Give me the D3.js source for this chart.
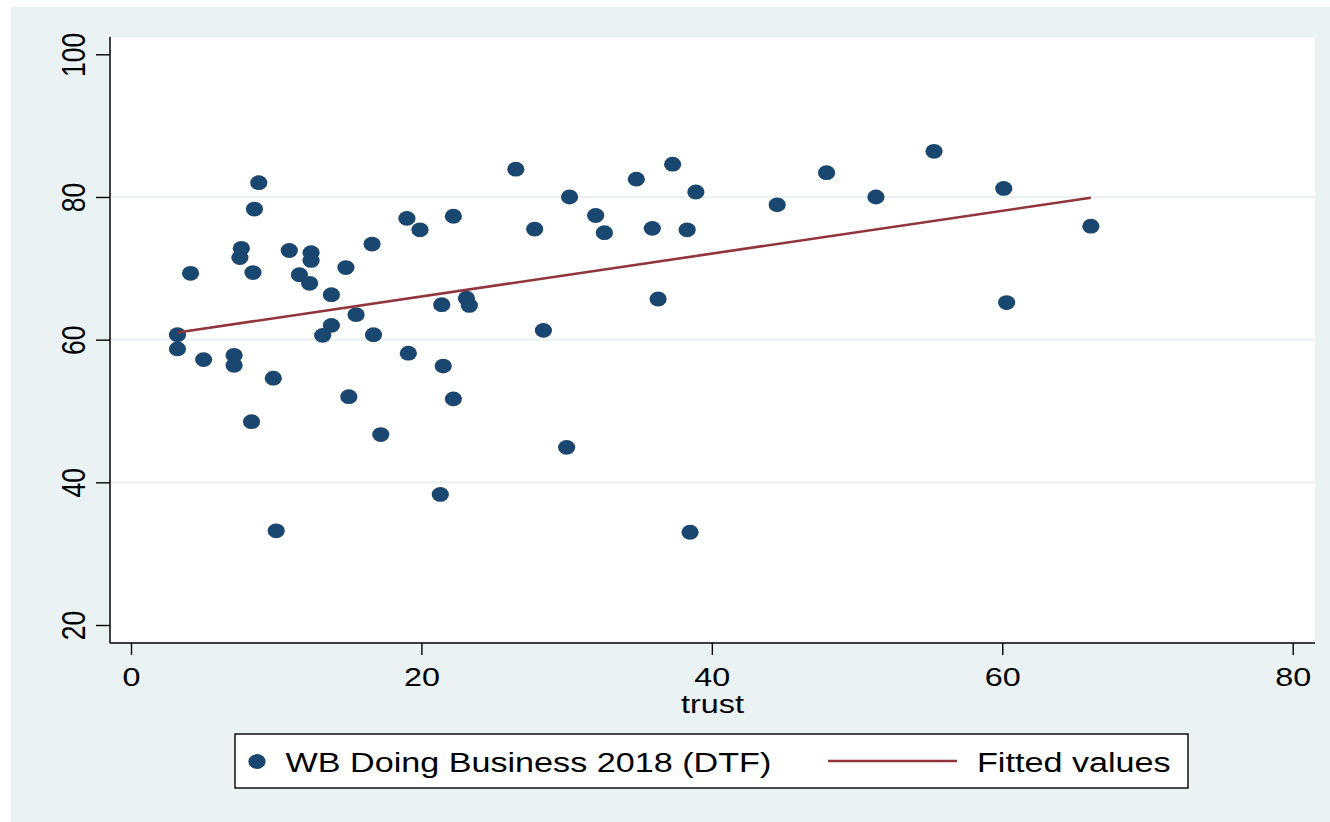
<!DOCTYPE html>
<html>
<head>
<meta charset="utf-8">
<script src="https://cdn.jsdelivr.net/npm/d3@7"></script>
<style>
  body { margin: 0; background: #fff; }
  svg { display: block; }
  text { font-family: "Liberation Sans", Arial, Helvetica, sans-serif; fill: #000; }
</style>
</head>
<body>
<script>
// trust (x) vs WB Doing Business 2018 DTF (y)
const trust = [
  8.8, 8.5, 7.6, 7.5, 10.9, 12.4, 12.4, 4.1, 8.4, 11.6,
  12.3, 14.8, 16.6, 13.8, 15.5, 13.8, 13.2, 16.7, 3.2, 3.2,
  5.0, 7.1, 7.1, 9.8, 15.0, 19.0, 19.9, 22.2, 21.4, 19.1,
  21.5, 22.2, 8.3, 17.2, 21.3, 10.0, 26.5, 30.2, 34.8, 37.3,
  38.9, 27.8, 32.0, 32.6, 35.9, 38.3, 23.1, 23.3, 36.3, 28.4,
  30.0, 38.5, 44.5, 47.9, 51.3, 55.3, 60.1, 66.1, 60.3
];
const dtf = [
  82.0, 78.3, 72.8, 71.5, 72.5, 72.2, 71.1, 69.3, 69.4, 69.1,
  67.9, 70.1, 73.4, 66.3, 63.5, 62.0, 60.6, 60.7, 60.7, 58.7,
  57.2, 57.8, 56.4, 54.6, 52.0, 77.0, 75.4, 77.3, 64.9, 58.1,
  56.3, 51.7, 48.5, 46.7, 38.3, 33.2, 83.9, 80.0, 82.5, 84.6,
  80.7, 75.5, 77.4, 75.0, 75.6, 75.4, 65.8, 64.8, 65.7, 61.3,
  44.9, 33.0, 78.9, 83.4, 80.0, 86.4, 81.2, 75.9, 65.2
];
// fitted values (linear fit), read at the ends of the line
const fitX = [3.2, 66.1];
const fitY = [61.0, 79.9];

const xTicks = [0, 20, 40, 60, 80];
const yTicks = [20, 40, 60, 80, 100];
const yGrid = [40, 60, 80];
const legendLabels = ["WB Doing Business 2018 (DTF)", "Fitted values"];

const W = 1330, H = 822;
const stretch = 1.22;
const bg = "#eaf2f3", navy = "#1a476f", maroon = "#90353b";

const svg = d3.select("body").append("svg").attr("width", W).attr("height", H);

svg.append("rect").attr("x", 11).attr("y", 7).attr("width", W - 11).attr("height", H - 7).attr("fill", bg);

const plot = { left: 110, top: 37, right: 1315, bottom: 643 };
svg.append("rect")
  .attr("x", plot.left).attr("y", plot.top)
  .attr("width", plot.right - plot.left).attr("height", plot.bottom - plot.top)
  .attr("fill", "#fff");

const x = d3.scaleLinear().domain([0, 80]).range([131, 1292.7]);
const y = d3.scaleLinear().domain([20, 100]).range([625, 54.3]);

// grid
svg.append("g").selectAll("line").data(yGrid).join("line")
  .attr("x1", plot.left).attr("x2", plot.right)
  .attr("y1", d => y(d)).attr("y2", d => y(d))
  .attr("stroke", bg).attr("stroke-width", 2.2);

// y axis
const yAxis = svg.append("g").attr("transform", `translate(${plot.left},0)`)
  .call(d3.axisLeft(y).tickValues(yTicks).tickSize(14).tickSizeOuter(0));
yAxis.select(".domain").remove();
yAxis.selectAll(".tick line").attr("stroke", "#000").attr("stroke-width", 1.4);
yAxis.selectAll(".tick text")
  .attr("x", null).attr("dy", null)
  .attr("text-anchor", "middle")
  .attr("font-size", 26.5)
  .attr("transform", `translate(-25,0) scale(${stretch},1) rotate(-90)`);
svg.append("line")
  .attr("x1", plot.left).attr("x2", plot.left).attr("y1", plot.top).attr("y2", plot.bottom)
  .attr("stroke", "#000").attr("stroke-width", 1.5);

// x axis
const xAxis = svg.append("g").attr("transform", `translate(0,${plot.bottom})`)
  .call(d3.axisBottom(x).tickValues(xTicks).tickSize(12).tickSizeOuter(0));
xAxis.select(".domain").remove();
xAxis.selectAll(".tick line").attr("stroke", "#000").attr("stroke-width", 1.4);
xAxis.selectAll(".tick text")
  .attr("y", null).attr("dy", null)
  .attr("text-anchor", "middle")
  .attr("font-size", 26.5)
  .attr("transform", `translate(0,43) scale(${stretch},1)`);
svg.append("line")
  .attr("x1", plot.left).attr("x2", plot.right).attr("y1", plot.bottom).attr("y2", plot.bottom)
  .attr("stroke", "#000").attr("stroke-width", 1.5);

d3.selectAll(".tick text").attr("fill", "#000").style("font-family", '"Liberation Sans", Arial, sans-serif');

svg.append("text")
  .attr("text-anchor", "middle")
  .attr("font-size", 26.5)
  .attr("transform", `translate(${(plot.left + plot.right) / 2},713) scale(${stretch},1)`)
  .text("trust");

// points
svg.append("g").selectAll("ellipse").data(trust).join("ellipse")
  .attr("cx", d => x(d))
  .attr("cy", (d, i) => y(dtf[i]))
  .attr("rx", 8.6).attr("ry", 7.4)
  .attr("fill", navy);

// fitted line
svg.append("path")
  .datum(fitX.map((d, i) => [d, fitY[i]]))
  .attr("d", d3.line().x(d => x(d[0])).y(d => y(d[1])))
  .attr("fill", "none").attr("stroke", maroon).attr("stroke-width", 2.6);

// legend
const lg = svg.append("g");
lg.append("rect").attr("x", 235).attr("y", 734).attr("width", 953).attr("height", 54)
  .attr("fill", "#fff").attr("stroke", "#000").attr("stroke-width", 1.4);
lg.append("ellipse").attr("cx", 257).attr("cy", 761.5).attr("rx", 8.6).attr("ry", 7.4).attr("fill", navy);
lg.append("text").attr("font-size", 28)
  .attr("transform", `translate(285.5,771.5) scale(${stretch},1)`)
  .text(legendLabels[0]);
lg.append("line").attr("x1", 828).attr("x2", 957).attr("y1", 761).attr("y2", 761)
  .attr("stroke", maroon).attr("stroke-width", 2.6);
lg.append("text").attr("font-size", 28)
  .attr("transform", `translate(977,771.5) scale(${stretch},1)`)
  .text(legendLabels[1]);
</script>
</body>
</html>
